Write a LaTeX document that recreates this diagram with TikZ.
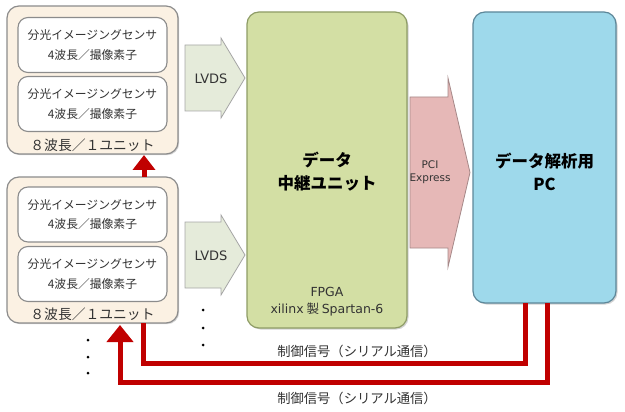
\documentclass[tikz,border=0pt]{standalone}
\usepackage{fontspec}
\setmainfont{Noto Sans CJK JP}
\newfontfamily\latfont{DejaVu Sans}
\usetikzlibrary{arrows.meta,shadows}
\definecolor{unitfill}{HTML}{FBF1E3}
\definecolor{unitdraw}{HTML}{8C8C8C}
\definecolor{lvdsfill}{HTML}{E5EBDA}
\definecolor{lvdsdraw}{HTML}{A6A6A6}
\definecolor{relayfill}{HTML}{D3DFA4}
\definecolor{relaydraw}{HTML}{8E9C66}
\definecolor{pcfill}{HTML}{9ED9EB}
\definecolor{pcdraw}{HTML}{5D8799}
\definecolor{pcifill}{HTML}{E6B8B7}
\definecolor{pcidraw}{HTML}{A58888}
\definecolor{ctrl}{HTML}{C00000}
\tikzset{
  unitbox/.style={draw=unitdraw, fill=unitfill, line width=1.2pt, rounded corners=12pt,
    drop shadow={opacity=0.35, shadow xshift=1.2pt, shadow yshift=-1.2pt}},
  sensorbox/.style={draw=unitdraw, fill=white, line width=1.1pt, rounded corners=10pt,
    minimum width=149pt, minimum height=55pt, align=center, inner sep=0pt,
    font=\fontsize{11.8}{19.5}\selectfont, text=black!80},
  unitlabel/.style={font=\fontsize{13.8}{15}\selectfont, text=black!80},
  flowarrow/.style={line width=0.8pt, line join=miter},
  flowtext/.style={font=\latfont\fontsize{13}{14}\selectfont, text=black!80, align=center},
  bigbox/.style={line width=1.2pt, rounded corners=12pt,
    drop shadow={opacity=0.35, shadow xshift=1.5pt, shadow yshift=-1.5pt}},
  titletext/.style={font=\bfseries\fontsize{16.5}{23}\selectfont, align=center},
  ctrlline/.style={draw=ctrl, line width=5pt},
  ctrltext/.style={font=\fontsize{13.3}{14}\selectfont, text=black!80},
  dot/.style={circle, fill=black, inner sep=0pt, minimum size=3pt}
}
\begin{document}
\begin{tikzpicture}[x=1pt,y=-1pt]
\useasboundingbox (0,0) rectangle (625,412);
% units
\node[unitbox, minimum width=171pt, minimum height=148pt] (u1) at (92.5,80) {};
\node[sensorbox] (s11) at (92.5,45) {分光イメージングセンサ\\4波長／撮像素子};
\node[sensorbox] (s12) at (92.5,104) {分光イメージングセンサ\\4波長／撮像素子};
\node[unitlabel] (l1) at (92.5,145) {８波長／１ユニット};
\node[unitbox, minimum width=171pt, minimum height=146pt] (u2) at (92.5,250) {};
\node[sensorbox] (s21) at (92.5,214.5) {分光イメージングセンサ\\4波長／撮像素子};
\node[sensorbox] (s22) at (92.5,274) {分光イメージングセンサ\\4波長／撮像素子};
\node[unitlabel] (l2) at (92.5,314) {８波長／１ユニット};
% LVDS arrows
\draw[flowarrow, draw=lvdsdraw, fill=lvdsfill] (185,45) -- (221,45) -- (221,38) -- (245,78) -- (221,118) -- (221,111) -- (185,111) -- cycle;
\node[flowtext] (lv1) at (211,79) {LVDS};
\draw[flowarrow, draw=lvdsdraw, fill=lvdsfill] (185,222) -- (221,222) -- (221,215) -- (245,255) -- (221,295) -- (221,288) -- (185,288) -- cycle;
\node[flowtext] (lv2) at (211,256) {LVDS};
% relay unit
\node[bigbox, draw=relaydraw, fill=relayfill, minimum width=160pt, minimum height=316pt] (relay) at (327,170) {};
\node[titletext] (rt) at (327,172) {データ\\中継ユニット};
\node[flowtext, font=\fontsize{12.5}{17}\selectfont] (fpga) at (327,302) {{\latfont FPGA}\\{\latfont xilinx} 製 {\latfont Spartan-6}};
% PCI Express arrow
\draw[flowarrow, draw=pcidraw, fill=pcifill] (410,97) -- (448,97) -- (448,78) -- (470,172.5) -- (448,267) -- (448,248) -- (410,248) -- cycle;
\node[flowtext, font=\latfont\fontsize{10.5}{13}\selectfont] (pci) at (430,172) {PCI\\Express};
% PC
\node[bigbox, draw=pcdraw, fill=pcfill, minimum width=143pt, minimum height=291pt] (pc) at (544.5,157.5) {};
\node[titletext] (pt) at (544.5,172) {データ解析用\\PC};
% control lines
\coordinate (a1) at (525,303);
\coordinate (a2) at (547,303);
\coordinate (b1) at (143.5,323);
\coordinate (b2) at (120,325);
\draw[ctrlline] (a1) -- (a1 |- 0,363) -- (b1 |- 0,363) -- (b1);
\draw[ctrlline, -{Triangle[width=26pt,length=17pt]}] (a2) -- (a2 |- 0,382) -- (b2 |- 0,382) -- (b2);
\coordinate (c1) at (144,177);
\coordinate (c2) at (144,155);
\draw[ctrlline, -{Triangle[width=22pt,length=15pt]}] (c1) -- (c2);
\node[ctrltext] (t1) at (357,351) {制御信号（シリアル通信）};
\node[ctrltext] (t2) at (357,398) {制御信号（シリアル通信）};
% dots
\node[dot] (d1) at (203,310) {};
\node[dot] (d2) at (203,328) {};
\node[dot] (d3) at (203,345) {};
\node[dot] (d4) at (88,340) {};
\node[dot] (d5) at (88,357) {};
\node[dot] (d6) at (88,373) {};
\end{tikzpicture}
\end{document}
